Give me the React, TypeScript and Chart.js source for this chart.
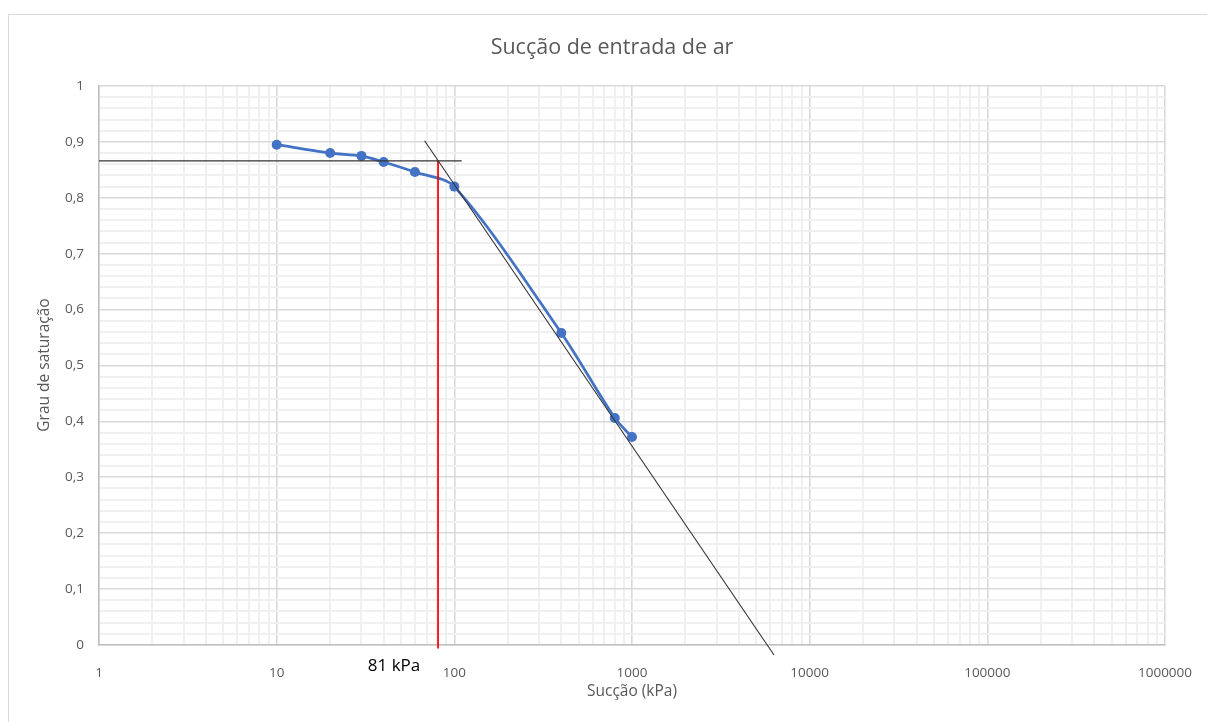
import { useEffect, useRef } from 'react';
import { Chart, registerables } from 'chart.js';

Chart.register(...registerables);

// Measured degree of saturation versus suction
const suctionKPa = [10, 20, 30, 40, 60, 100, 400, 800, 1000];
const saturation = [0.895, 0.88, 0.875, 0.864, 0.846, 0.82, 0.558, 0.406, 0.372];

// Construction lines for the air-entry value
const plateauX = [1, 110];
const plateauY = [0.866, 0.866];
const tangentX = [68, 6300];
const tangentY = [0.902, -0.018];
const airEntryX = [81, 81];
const airEntryY = [0.866, -0.006];
const airEntryLabel = '81 kPa';

// Axis labels
const xTickLabels = ['1', '10', '100', '1000', '10000', '100000', '1000000'];
const yTickLabels = ['0', '0,1', '0,2', '0,3', '0,4', '0,5', '0,6', '0,7', '0,8', '0,9', '1'];

const chartTitle = 'Sucção de entrada de ar';
const xTitle = 'Sucção (kPa)';
const yTitle = 'Grau de saturação';

const FONT = '"Open Sans", "Liberation Sans", sans-serif';
const TEXT_GREY = '#595959';
const MAJOR_GRID = '#d9d9d9';
const MINOR_GRID = '#f0f0f0';

const toPoints = (xs: number[], ys: number[]) => xs.map((x, i) => ({ x, y: ys[i] }));

const isDecade = (v: number) => Math.abs(Math.log10(v) - Math.round(Math.log10(v))) < 1e-9;

export default function App() {
  const canvasRef = useRef<HTMLCanvasElement | null>(null);

  useEffect(() => {
    if (!canvasRef.current) return;

    const textPlugin = {
      id: 'frameAndText',
      beforeDraw(chart: any) {
        const { ctx, width, height } = chart;
        ctx.save();
        ctx.fillStyle = '#ffffff';
        ctx.fillRect(0, 0, width, height);
        ctx.strokeStyle = '#d9d9d9';
        ctx.lineWidth = 1;
        ctx.strokeRect(0.5, 0.5, width + 10, height + 10);
        ctx.restore();
      },
      afterDraw(chart: any) {
        const { ctx } = chart;
        ctx.save();
        ctx.textAlign = 'center';
        ctx.textBaseline = 'middle';
        ctx.fillStyle = TEXT_GREY;
        ctx.font = `21.5px ${FONT}`;
        ctx.fillText(chartTitle, 604, 34);

        ctx.font = `15.5px ${FONT}`;
        ctx.fillText(xTitle, 624, 678);

        ctx.save();
        ctx.translate(37, 351);
        ctx.rotate(-Math.PI / 2);
        ctx.fillText(yTitle, 0, 0);
        ctx.restore();

        ctx.fillStyle = '#000000';
        ctx.font = `17px ${FONT}`;
        ctx.fillText(airEntryLabel, 386, 652);
        ctx.restore();
      },
    };

    const chart = new Chart(canvasRef.current, {
      type: 'scatter',
      data: {
        datasets: [
          {
            label: 'tangent',
            data: toPoints(tangentX, tangentY),
            showLine: true,
            borderColor: '#333333',
            borderWidth: 1.1,
            pointRadius: 0,
            order: 0,
            clip: { left: 5, top: 5, right: 5, bottom: 12 } as any,
          },
          {
            label: 'plateau',
            data: toPoints(plateauX, plateauY),
            showLine: true,
            borderColor: '#333333',
            borderWidth: 1.1,
            pointRadius: 0,
            order: 0,
          },
          {
            label: 'air entry',
            data: toPoints(airEntryX, airEntryY),
            showLine: true,
            borderColor: '#ff0000',
            borderWidth: 1,
            pointRadius: 0,
            order: 0,
            clip: { left: 5, top: 5, right: 5, bottom: 12 } as any,
          },
          {
            label: 'Grau de saturação',
            data: toPoints(suctionKPa, saturation),
            showLine: true,
            borderColor: '#4472C4',
            backgroundColor: '#4472C4',
            borderWidth: 2.75,
            pointRadius: 5,
            pointBorderWidth: 0,
            tension: 0.3,
            order: 1,
          },
        ],
      },
      options: {
        responsive: false,
        animation: false,
        layout: { padding: { left: 0, right: 51, top: 72, bottom: 0 } },
        plugins: {
          legend: { display: false },
          title: { display: false },
          tooltip: { enabled: false },
        },
        scales: {
          x: {
            type: 'logarithmic',
            min: 1,
            max: 1000000,
            afterBuildTicks(scale: any) {
              const ticks: { value: number }[] = [];
              for (let k = 0; k < xTickLabels.length - 1; k++) {
                for (let m = 1; m <= 9; m++) ticks.push({ value: m * Math.pow(10, k) });
              }
              ticks.push({ value: Math.pow(10, xTickLabels.length - 1) });
              scale.ticks = ticks;
            },
            afterFit(scale: any) {
              scale.height = 77;
            },
            ticks: {
              autoSkip: false,
              maxRotation: 0,
              padding: 20,
              color: TEXT_GREY,
              font: { family: FONT, size: 13.5 },
              callback: (value: any) => {
                const v = Number(value);
                return isDecade(v) ? xTickLabels[Math.round(Math.log10(v))] : '';
              },
            },
            grid: {
              drawTicks: false,
              color: (c: any) => (c.tick && isDecade(c.tick.value) ? MAJOR_GRID : MINOR_GRID),
              lineWidth: (c: any) => (c.tick && isDecade(c.tick.value) ? 1.6 : 2),
            },
            border: { color: '#bfbfbf', width: 1.5 },
          },
          y: {
            type: 'linear',
            min: 0,
            max: 1,
            afterBuildTicks(scale: any) {
              const ticks: { value: number }[] = [];
              const steps = (yTickLabels.length - 1) * 5;
              for (let i = 0; i <= steps; i++) ticks.push({ value: i / steps });
              scale.ticks = ticks;
            },
            afterFit(scale: any) {
              scale.width = 91;
            },
            ticks: {
              autoSkip: false,
              padding: 15,
              color: TEXT_GREY,
              font: { family: FONT, size: 13.5 },
              callback: (_v: any, index: number) => (index % 5 === 0 ? yTickLabels[index / 5] : ''),
            },
            grid: {
              drawTicks: false,
              color: (c: any) => (c.index % 5 === 0 ? MAJOR_GRID : MINOR_GRID),
              lineWidth: (c: any) => (c.index % 5 === 0 ? 1.6 : 2),
            },
            border: { color: '#bfbfbf', width: 1.5 },
          },
        },
      },
      plugins: [textPlugin],
    });

    return () => chart.destroy();
  }, []);

  return (
    <div
      style={{
        position: 'fixed',
        left: 0,
        top: 0,
        width: 1207,
        height: 722,
        overflow: 'hidden',
        background: '#ffffff',
      }}
    >
      <canvas
        ref={canvasRef}
        width={1208}
        height={708}
        style={{ position: 'absolute', left: 8, top: 14, display: 'block' }}
      />
    </div>
  );
}
